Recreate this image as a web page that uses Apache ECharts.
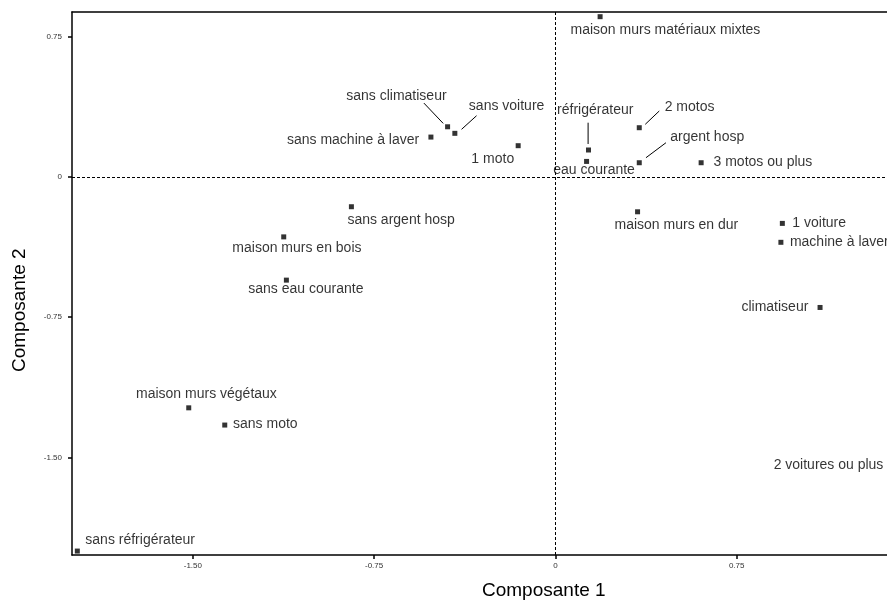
<!DOCTYPE html>
<html><head><meta charset="utf-8">
<script src="https://cdn.jsdelivr.net/npm/echarts@6/dist/echarts.min.js"></script>
<style>html,body{margin:0;padding:0;background:#fff}#c{width:887px;height:603px}</style>
</head><body><div id="c"></div>
<script>
// Data
const names = ["sans climatiseur","sans voiture","sans machine à laver","1 moto","réfrigérateur","eau courante",
  "maison murs matériaux mixtes","2 motos","argent hosp","3 motos ou plus","sans argent hosp","maison murs en bois",
  "sans eau courante","maison murs en dur","1 voiture","machine à laver","climatiseur","maison murs végétaux",
  "sans moto","sans réfrigérateur","2 voitures ou plus"];
const comp1 = [-0.446,-0.416,-0.515,-0.154,0.137,0.129,0.185,0.347,0.347,0.603,-0.844,-1.124,-1.113,0.340,0.939,0.933,1.095,-1.517,-1.368,-1.978,1.40];
const comp2 = [0.267,0.232,0.212,0.166,0.143,0.082,0.855,0.262,0.075,0.075,-0.160,-0.321,-0.552,-0.187,-0.249,-0.350,-0.698,-1.234,-1.326,-1.999,-1.54];
const tickValues = [-1.5,-0.75,0,0.75];
const tickLabels = {"-1.5":"-1.50","-0.75":"-0.75","0":"0","0.75":"0.75"};

// Label layout (pixel offsets from the point, text alignment)
const labelLayout = [
  [-1,-31,'right'],[14,-27.6,'left'],[-11.7,3,'right'],[-4,13.6,'right'],
  [-31.4,-40,'left'],[-33.4,8.7,'left'],[-29.6,13.3,'left'],[25.4,-21,'left'],
  [31,-26,'left'],[12.4,-0.7,'left'],[-4,13.3,'left'],[13.2,11,'center'],
  [19.5,9.3,'center'],[38.8,13.3,'center'],[10,-0.6,'left'],[9,-0.3,'left'],
  [-11.7,0,'right'],[17.7,-13.7,'center'],[8.3,-1,'left'],[8,-11,'left'],
  [-10.4,0,'right']
];
// Leader segments: index of point, pixel offsets [x1,y1,x2,y2] relative to the point
const leaders = [
  [0,-23.7,-23.7,-4.4,-3.4],
  [1,21.7,-17.6,6.7,-4],
  [4,-0.4,-27.3,-0.4,-6],
  [7,6,-3.4,20,-16.7],
  [8,6.7,-5,26.7,-20]
];

const data = names.map((n,i)=>{
  const L = labelLayout[i];
  return {
    name:n, value:[comp1[i],comp2[i]],
    label:{show:true, position:'inside', align:L[2], verticalAlign:'middle', offset:[L[0],L[1]]}
  };
});
const leaderData = leaders.map(l=>[comp1[l[0]],comp2[l[0]],l[1],l[2],l[3],l[4]]);

const chart = echarts.init(document.getElementById('c'), null, {renderer:'canvas'});
const axisCommon = {
  type:'value',
  axisLine:{show:true, onZero:false, lineStyle:{color:'#000', width:1.5}},
  splitLine:{show:false},
};
const FONT = 'Liberation Sans, Arial';
chart.setOption({
  animation:false,
  backgroundColor:'#fff',
  grid:{left:72, right:0, top:12, bottom:48, containLabel:false},
  xAxis:[
    Object.assign({}, axisCommon, {
      min:-2.0, max:1.372, position:'bottom',
      axisTick:{show:true, customValues:tickValues, length:4, lineStyle:{color:'#000', width:1.5}},
      axisLabel:{show:true, customValues:tickValues, margin:7, fontSize:8, color:'#333', fontFamily:FONT,
        formatter:v=>tickLabels[String(v)] ?? ''}
    }),
    Object.assign({}, axisCommon, {
      min:-2.0, max:1.372, position:'top', axisTick:{show:false}, axisLabel:{show:false}
    })
  ],
  yAxis:Object.assign({}, axisCommon, {
    min:-2.02, max:0.88,
    axisTick:{show:true, customValues:tickValues, length:4, lineStyle:{color:'#000', width:1.5}},
    axisLabel:{show:true, customValues:tickValues, margin:10, fontSize:8, color:'#333', fontFamily:FONT,
      formatter:v=>tickLabels[String(v)] ?? ''}
  }),
  series:[{
    type:'scatter',
    clip:false,
    symbol:'rect',
    symbolSize:5,
    itemStyle:{color:'#000'},
    label:{show:true, formatter:'{b}', fontSize:14, color:'#000', fontFamily:FONT},
    data:data,
    markLine:{
      silent:true, symbol:'none', animation:false,
      label:{show:false},
      lineStyle:{color:'#000', type:[3,2], width:1},
      data:[{xAxis:0},{yAxis:0}]
    }
  },{
    type:'custom',
    silent:true,
    clip:false,
    data:leaderData,
    renderItem:(params, api)=>{
      const p = api.coord([api.value(0), api.value(1)]);
      return {type:'line', shape:{x1:p[0]+api.value(2), y1:p[1]+api.value(3), x2:p[0]+api.value(4), y2:p[1]+api.value(5)},
        style:{stroke:'#000', lineWidth:1}};
    }
  }],
  graphic:[
    {type:'text', left:482, top:581, style:{text:'Composante 1', fontSize:19, fill:'#000', fontFamily:FONT}},
    {type:'text', x:10, y:372, rotation:Math.PI/2, style:{text:'Composante 2', fontSize:19, fill:'#000', fontFamily:FONT, textVerticalAlign:'top'}}
  ]
});
</script></body></html>
